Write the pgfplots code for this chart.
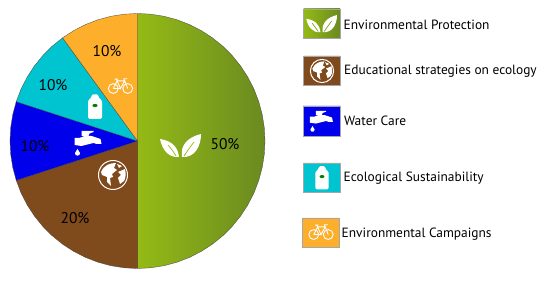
\documentclass[border=0pt]{standalone}
\usepackage{fontspec}
\setmainfont{PT Sans}
\usepackage{pgfplots}
\pgfplotsset{compat=1.18}
\definecolor{gL}{RGB}{148,186,22}
\definecolor{gR}{RGB}{106,138,32}
\definecolor{gM}{RGB}{128,164,28}
\definecolor{brn}{RGB}{127,74,28}
\definecolor{blu}{RGB}{0,0,235}
\definecolor{cya}{RGB}{0,196,208}
\definecolor{ora}{RGB}{253,174,42}
\definecolor{edge}{RGB}{70,70,60}
\definecolor{txt}{RGB}{35,31,32}
% icons, drawn in px units about their centre; #1 = background colour
\newcommand{\leaves}[1]{%
  \fill[white] (1,-11) .. controls (-1,2) and (8,9) .. (20,12) .. controls (20,0) and (14,-12) .. cycle;
  \fill[white] (-2,-11) .. controls (-3,-2) and (-8,5) .. (-21,7) .. controls (-19,-3) and (-13,-12) .. cycle;
  \draw[#1,line width=.7pt] (3,-10) .. controls (7,-4) .. (13,4);
  \draw[#1,line width=.7pt] (-5,-10) .. controls (-8,-5) .. (-13,1);
}
\newcommand{\globe}[1]{%
  \draw[white,line width=1pt] (0,0) circle (14.5);
  \fill[white] (-12,3) .. controls (-9,10) and (-3,12) .. (3,12) -- (1,7) -- (4,5) -- (-1,1) -- (0,-2) -- (-3,-3) -- (-2,-11) -- (-6,-7) -- (-6,-2) -- (-11,0) -- cycle;
  \fill[white] (5,3) -- (12,6) .. controls (13,2) and (13,-3) .. (11,-6) -- (7,-9) -- (5,-3) -- (8,0) -- cycle;
  \fill[white] (4,11) -- (9,9) -- (6,7) -- cycle;
}
\newcommand{\tap}[1]{%
  \fill[white] (-13,-2) -- (-13,5) -- (-8,5) -- (-3,7) -- (4,7) -- (13,4) -- (14,-1) -- (9,-1) -- (6,0) -- (-6,-3) -- cycle;
  \fill[white] (-6,7) -- (-6,12) -- (6,12) -- (6,11) -- (2,9.5) -- (1,7) -- cycle;
  \fill[white] (-10,-6) -- (-7.5,-10) .. controls (-7,-13.5) and (-13,-13.5) .. (-12.5,-10) -- cycle;
}
\newcommand{\bottle}[1]{%
  \fill[white,rounded corners=1.5pt] (-7,-12) -- (-7,7) -- (-3.5,9) -- (-3.5,12.5) -- (3.5,12.5) -- (3.5,9) -- (7,7) -- (7,-12) -- cycle;
  \fill[green!50!black] (0,1.5) ellipse (2.6 and 1.6);
}
\newcommand{\bike}[1]{%
  \draw[white,line width=.9pt] (-8.5,-3) circle (5.8);
  \draw[white,line width=.9pt] (8.5,-3) circle (5.8);
  \draw[white,line width=.9pt] (-8.5,-3) -- (-4,6) -- (5,6) -- (8.5,-3) (-4,6) -- (0,-3) -- (5,6) (0,-3) -- (-8.5,-3) (5,6) -- (4,8.5) -- (8,8.5) (-4,6) -- (-5,8) (-7,8) -- (-3,8);
}
\newcommand{\icon}[5]{\begin{scope}[shift={(axis cs:#1,#2)},x=1pt,y=1pt,scale=#3]#4{#5}\end{scope}}
\begin{document}
\begin{tikzpicture}
\begin{axis}[
  at={(0pt,0pt)},anchor=south west,
  width=550pt,height=283pt,scale only axis,
  axis lines=none,clip=false,
  xmin=-137.5,xmax=412.5,ymin=-142,ymax=141,
  every node/.append style={text=txt},
]
% pie wedges: polar coordinates (angle, radius)
\addplot[data cs=polar,shade,left color=gL,right color=gR,draw=edge,line width=.3pt,no markers] coordinates {
 (0,0)(90,127.5)(84,127.5)(78,127.5)(72,127.5)(66,127.5)(60,127.5)(54,127.5)(48,127.5)(42,127.5)(36,127.5)(30,127.5)(24,127.5)(18,127.5)(12,127.5)(6,127.5)(0,127.5)(-6,127.5)(-12,127.5)(-18,127.5)(-24,127.5)(-30,127.5)(-36,127.5)(-42,127.5)(-48,127.5)(-54,127.5)(-60,127.5)(-66,127.5)(-72,127.5)(-78,127.5)(-84,127.5)(-90,127.5)(0,0)};
\addplot[data cs=polar,fill=brn,draw=edge,line width=.3pt,no markers] coordinates {
 (0,0)(270,127.5)(264,127.5)(258,127.5)(252,127.5)(246,127.5)(240,127.5)(234,127.5)(228,127.5)(222,127.5)(216,127.5)(210,127.5)(204,127.5)(198,127.5)(0,0)};
\addplot[data cs=polar,fill=blu,draw=edge,line width=.3pt,no markers] coordinates {
 (0,0)(198,127.5)(192,127.5)(186,127.5)(180,127.5)(174,127.5)(168,127.5)(162,127.5)(0,0)};
\addplot[data cs=polar,fill=cya,draw=edge,line width=.3pt,no markers] coordinates {
 (0,0)(162,127.5)(156,127.5)(150,127.5)(144,127.5)(138,127.5)(132,127.5)(126,127.5)(0,0)};
\addplot[data cs=polar,fill=ora,draw=edge,line width=.3pt,no markers] coordinates {
 (0,0)(126,127.5)(120,127.5)(114,127.5)(108,127.5)(102,127.5)(96,127.5)(90,127.5)(0,0)};
% legend swatches
\addplot[shade,left color=gL,right color=gR,draw=gray!70,line width=.4pt,no markers] coordinates {(166,132)(202.5,132)(202.5,103)(166,103)(166,132)};
\addplot[fill=brn,draw=gray!70,line width=.4pt,no markers] coordinates {(166,85)(202.5,85)(202.5,56)(166,56)(166,85)};
\addplot[fill=blu,draw=gray!70,line width=.4pt,no markers] coordinates {(165.5,35)(202.5,35)(202.5,5)(165.5,5)(165.5,35)};
\addplot[fill=cya,draw=gray!70,line width=.4pt,no markers] coordinates {(166,-22)(202.5,-22)(202.5,-51)(166,-51)(166,-22)};
\addplot[fill=ora,draw=gray!70,line width=.4pt,no markers] coordinates {(165,-77)(201.5,-77)(201.5,-106)(165,-106)(165,-77)};
% icons on the pie
\icon{43.5}{-5}{1}{\leaves}{gL}
\icon{-24.5}{-34}{1}{\globe}{brn}
\icon{-50}{-2}{1}{\tap}{blu}
\icon{-42.5}{34}{1}{\bottle}{cya}
\icon{-17}{55}{.85}{\bike}{ora}
% icons on the legend
\icon{184.5}{117}{.75}{\leaves}{gM}
\icon{184.5}{70}{.8}{\globe}{brn}
\icon{183.5}{20}{.85}{\tap}{blu}
\icon{184.5}{-37}{.95}{\bottle}{cya}
\icon{183.5}{-91}{.85}{\bike}{ora}
% pie labels
\node[font=\fontsize{15.5}{17}\selectfont] at (axis cs:87.5,-3) {50\%};
\node[font=\fontsize{15.5}{17}\selectfont] at (axis cs:-62.5,-77) {20\%};
\node[font=\fontsize{15.5}{17}\selectfont] at (axis cs:-102.5,-5) {10\%};
\node[font=\fontsize{15.5}{17}\selectfont] at (axis cs:-84.5,56) {10\%};
\node[font=\fontsize{15.5}{17}\selectfont] at (axis cs:-30.5,90) {10\%};
% legend labels
\node[anchor=west,inner sep=0pt,font=\fontsize{13.4}{15}\selectfont] at (axis cs:206,116.5) {Environmental Protection};
\node[anchor=west,inner sep=0pt,font=\fontsize{13.4}{15}\selectfont] at (axis cs:206.5,69.5) {Educational strategies on ecology};
\node[anchor=west,inner sep=0pt,font=\fontsize{13.4}{15}\selectfont] at (axis cs:206.5,20.5) {Water Care};
\node[anchor=west,inner sep=0pt,font=\fontsize{13.4}{15}\selectfont] at (axis cs:206,-37.5) {Ecological Sustainability};
\node[anchor=west,inner sep=0pt,font=\fontsize{13.4}{15}\selectfont] at (axis cs:204,-93.5) {Environmental Campaigns};
\end{axis}
\path[use as bounding box] (0pt,0pt) rectangle (550pt,283pt);
\end{tikzpicture}
\end{document}
